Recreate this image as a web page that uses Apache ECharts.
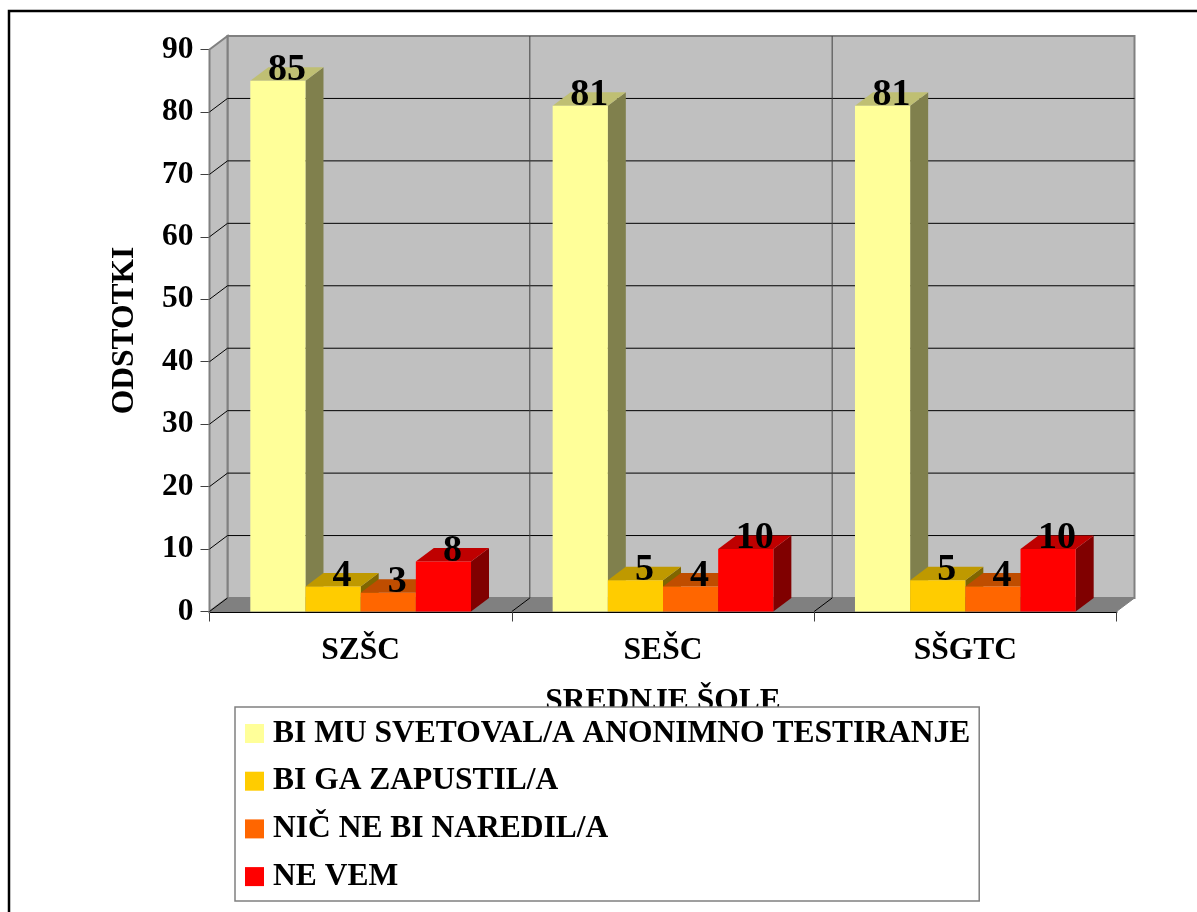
<!DOCTYPE html>
<html><head><meta charset="utf-8">
<style>html,body{margin:0;padding:0;background:#fff}#c{width:1197px;height:912px}</style>
<script src="https://cdn.jsdelivr.net/npm/echarts@6/dist/echarts.min.js"></script>
</head><body><div id="c"></div>
<script>
const categories = ['SZŠC','SEŠC','SŠGTC'];
const svetoval = [85,81,81];
const zapustil = [4,5,5];
const nicNeBi = [3,4,4];
const neVem = [8,10,10];
const seriesNames = ['BI MU SVETOVAL/A ANONIMNO TESTIRANJE','BI GA ZAPUSTIL/A','NIČ NE BI NAREDIL/A','NE VEM'];
const seriesValues = [svetoval,zapustil,nicNeBi,neVem];
const yMax = 90, yStep = 10;
const faces = [
  {front:'#FFFF99',top:'#BFBF73',side:'#80804D'},
  {front:'#FFCC00',top:'#BF9900',side:'#806600'},
  {front:'#FF6600',top:'#BF4D00',side:'#803300'},
  {front:'#FF0000',top:'#BF0000',side:'#800000'}
];
const DX = 18, DY = -13.5, FONT = 'Liberation Serif', FS = 31.5;
const GROUP = 0.73;
const L = 209.5, R = 1116.5, T = 49.5, B = 611.5;

function wall(params, api){
  const c = params.coordSys, x0=c.x, x1=c.x+c.width, y0=c.y, y1=c.y+c.height;
  const kids = [];
  const poly=(pts,fill,stroke,lw)=>kids.push({type:'polygon',shape:{points:pts},style:{fill:fill,stroke:stroke||null,lineWidth:lw||0},silent:true});
  const line=(a,b,col,lw)=>kids.push({type:'line',shape:{x1:a[0],y1:a[1],x2:b[0],y2:b[1]},style:{stroke:col,lineWidth:lw||1},silent:true});
  poly([[x0+DX,y0+DY],[x1+DX,y0+DY],[x1+DX,y1+DY],[x0+DX,y1+DY]],'#C0C0C0','#808080',2);
  poly([[x0,y0],[x0+DX,y0+DY],[x0+DX,y1+DY],[x0,y1]],'#C0C0C0','#808080',2);
  poly([[x0,y1],[x0+DX,y1+DY],[x1+DX,y1+DY],[x1,y1]],'#808080','#808080',1);
  for(let v=yStep;v<yMax;v+=yStep){
    const y=api.coord([0,v])[1];
    line([x0,y],[x0+DX,y+DY],'#000');
    line([x0+DX,y+DY],[x1+DX,y+DY],'#000');
  }
  const catW=c.width/categories.length;
  for(let i=1;i<categories.length;i++){
    const x=x0+catW*i;
    line([x,y1],[x+DX,y1+DY],'#000');
    line([x+DX,y1+DY],[x+DX,y0+DY],'#404040');
  }
  line([x0,y1],[x0+DX,y1+DY],'#000');
  return {type:'group',children:kids};
}
function barRenderer(si){
  return function(params, api){
    const cat=api.value(0), v=api.value(1);
    const catW=api.size([1,0])[0], gw=catW*GROUP, bw=gw/seriesNames.length;
    const c0=api.coord([cat,0]);
    const xl=c0[0]-gw/2+si*bw, xr=xl+bw, yb=c0[1], yt=api.coord([cat,v])[1];
    const f=faces[si];
    return {type:'group',children:[
      {type:'polygon',shape:{points:[[xr,yb],[xr+DX,yb+DY],[xr+DX,yt+DY],[xr,yt]]},style:{fill:f.side}},
      {type:'polygon',shape:{points:[[xl,yt],[xl+DX,yt+DY],[xr+DX,yt+DY],[xr,yt]]},style:{fill:f.top}},
      {type:'rect',shape:{x:xl,y:yt,width:bw,height:yb-yt},style:{fill:f.front}},
      {type:'text',z2:100,style:{text:String(v),x:(xl+xr)/2+9,y:yt+8.5,align:'center',verticalAlign:'bottom',fill:'#000',font:'bold 38px "'+FONT+'"'}}
    ]};
  };
}
const series=[{type:'custom',name:'wall',renderItem:wall,data:[[0,0]],silent:true,z:1,clip:false,encode:{x:0,y:1}}];
seriesNames.forEach((n,si)=>{
  series.push({type:'custom',name:n,renderItem:barRenderer(si),clip:false,z:2,itemStyle:{color:faces[si].front},
    encode:{x:0,y:1},data:categories.map((_,i)=>[i,seriesValues[si][i]])});
});
const chart=echarts.init(document.getElementById('c'),null,{renderer:'canvas'});
chart.setOption({
  animation:false,backgroundColor:'#fff',
  grid:{left:L,right:1197-R,top:T,bottom:912-B,containLabel:false},
  xAxis:{type:'category',data:categories,
    name:'SREDNJE ŠOLE',nameLocation:'middle',nameGap:74,
    nameTextStyle:{fontFamily:FONT,fontWeight:'bold',fontSize:FS,color:'#000'},
    axisLine:{show:true,lineStyle:{color:'#000',width:2}},
    axisTick:{show:true,alignWithLabel:false,length:10,lineStyle:{color:'#404040',width:1}},
    axisLabel:{fontFamily:FONT,fontWeight:'bold',fontSize:FS,color:'#000',margin:23},
    splitLine:{show:false}},
  yAxis:{type:'value',min:0,max:yMax,interval:yStep,
    name:'ODSTOTKI',nameLocation:'middle',nameGap:69,nameRotate:90,
    nameTextStyle:{fontFamily:FONT,fontWeight:'bold',fontSize:FS,color:'#000'},
    axisLine:{show:true,lineStyle:{color:'#404040',width:1}},
    axisTick:{show:true,length:9,lineStyle:{color:'#404040',width:1}},
    axisLabel:{fontFamily:FONT,fontWeight:'bold',fontSize:FS,color:'#000',margin:16},
    splitLine:{show:false}},
  legend:{data:seriesNames,orient:'vertical',left:235,top:707,align:'left',
    backgroundColor:'#fff',borderColor:'#808080',borderWidth:1.5,padding:[10.5,9,8.5,10],
    icon:'rect',itemWidth:19,itemHeight:19,itemGap:15.7,z:10,selectedMode:false,
    textStyle:{fontFamily:FONT,fontWeight:'bold',fontSize:FS,lineHeight:32,color:'#000',padding:[0,0,0,4]}},
  series:series,
  graphic:[{type:'rect',z:20,silent:true,shape:{x:9,y:11,width:1300,height:1100},style:{fill:'none',stroke:'#000',lineWidth:2.5}}]
});
</script></body></html>
